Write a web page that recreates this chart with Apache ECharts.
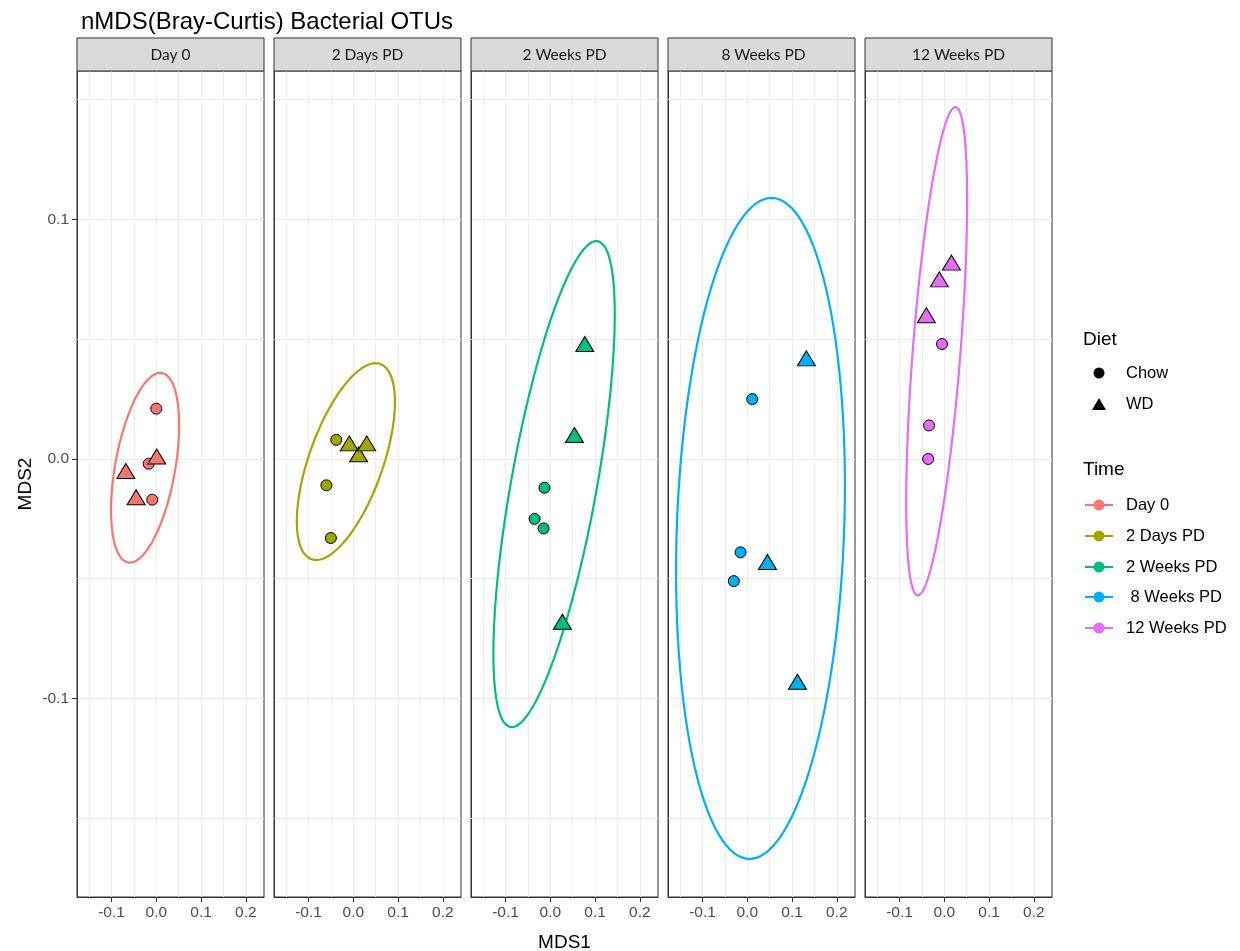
<!DOCTYPE html>
<html>
<head>
<meta charset="utf-8">
<script src="https://cdn.jsdelivr.net/npm/echarts@6/dist/echarts.min.js"></script>
<style>html,body{margin:0;padding:0;background:#fff}#chart{width:1240px;height:951px}</style>
</head>
<body>
<div id="chart"></div>
<script>
// ---- data ----
const times = ['Day 0', '2 Days PD', '2 Weeks PD', ' 8 Weeks PD', '12 Weeks PD'];
const diets = ['Chow', 'WD'];
const timeColors = ['#F8766D', '#A3A500', '#00BF7D', '#00B0F6', '#E76BF3'];

// Chow (circles) per time panel
const chowX = [[0.000, -0.017, -0.009], [-0.038, -0.060, -0.050], [-0.013, -0.035, -0.015], [0.011, -0.015, -0.030], [-0.005, -0.034, -0.036]];
const chowY = [[0.021, -0.002, -0.017], [0.008, -0.011, -0.033], [-0.012, -0.025, -0.029], [0.025, -0.039, -0.051], [0.048, 0.014, 0.000]];
// WD (triangles) per time panel
const wdX = [[0.001, -0.068, -0.045], [-0.009, 0.012, 0.030], [0.077, 0.054, 0.027], [0.132, 0.045, 0.112], [0.016, -0.011, -0.040]];
const wdY = [[0.001, -0.005, -0.016], [0.0065, 0.002, 0.0065], [0.048, 0.010, -0.068], [0.042, -0.043, -0.093], [0.082, 0.075, 0.060]];

// 95% ellipse extents
const ellXmin = [-0.101, -0.126, -0.127, -0.159, -0.085];
const ellXmax = [0.051, 0.093, 0.144, 0.218, 0.051];
const ellYmin = [-0.0433, -0.0422, -0.112, -0.167, -0.057];
const ellYmax = [0.036, 0.040, 0.091, 0.109, 0.147];
const ellXatTop = [0.009, 0.050, 0.103, 0.054, 0.025];

// axis ticks
const xTicks = [-0.1, 0.0, 0.1, 0.2];
const yTicks = [-0.1, 0.0, 0.1];
const xMinor = [-0.15, -0.05, 0.05, 0.15];
const yMinor = [-0.15, -0.05, 0.05, 0.15];
const xRange = [-0.177, 0.2405];
const yRange = [-0.1829, 0.162];

// ---- build ----
function ellipsePath(i) {
  const cx = (ellXmin[i] + ellXmax[i]) / 2, rx = (ellXmax[i] - ellXmin[i]) / 2;
  const cy = (ellYmin[i] + ellYmax[i]) / 2, ry = (ellYmax[i] - ellYmin[i]) / 2;
  const phi = Math.acos(Math.max(-1, Math.min(1, (ellXatTop[i] - cx) / rx)));
  const pts = [];
  const n = 120;
  for (let k = 0; k <= n; k++) {
    const t = 2 * Math.PI * k / n;
    pts.push([cx + rx * Math.cos(t), cy + ry * Math.cos(t - phi)]);
  }
  return pts;
}
const zip = (xs, ys) => xs.map((x, j) => [x, ys[j]]);
const fmt = v => (Math.abs(v * 10 - Math.round(v * 10)) < 1e-6 ? (Math.round(v * 10) / 10).toFixed(1) : '');

const P_LEFT = 77, P_STEP = 197, P_W = 187, P_TOP = 71, P_H = 826, STRIP_TOP = 38;
const FONT = '"Liberation Sans", Arial, sans-serif';

const grid = [], xAxis = [], yAxis = [], series = [], graphic = [];
times.forEach((t, i) => {
  grid.push({left: P_LEFT + i * P_STEP, top: P_TOP, width: P_W, height: P_H, show: true,
    borderColor: '#333', borderWidth: 1, backgroundColor: '#fff',
    containLabel: false, outerBoundsMode: 'none'});
  xAxis.push({type: 'value', gridIndex: i, min: xRange[0], max: xRange[1], splitNumber: 4,
    minInterval: 0.1, maxInterval: 0.1,
    axisLine: {show: true, onZero: false, lineStyle: {color: '#333', width: 1}},
    axisTick: {show: true, length: 5, lineStyle: {color: '#333'}, customValues: xTicks},
    axisLabel: {color: '#4d4d4d', fontSize: 15.5, fontFamily: FONT, margin: 8, customValues: xTicks, formatter: fmt},
    splitLine: {show: true, lineStyle: {color: '#ebebeb', width: 1}},
    name: i === 2 ? 'MDS1' : '', nameLocation: 'middle', nameGap: 36,
    nameTextStyle: {fontSize: 19, color: '#000', fontFamily: FONT}});
  yAxis.push({type: 'value', gridIndex: i, min: yRange[0], max: yRange[1], splitNumber: 3,
    minInterval: 0.1, maxInterval: 0.1,
    axisLine: {show: true, onZero: false, lineStyle: {color: '#333', width: 1}},
    axisTick: {show: i === 0, length: 5, lineStyle: {color: '#333'}, customValues: yTicks},
    axisLabel: {show: i === 0, color: '#4d4d4d', fontSize: 15.5, fontFamily: FONT, margin: 8, customValues: yTicks, formatter: fmt},
    splitLine: {show: true, lineStyle: {color: '#ebebeb', width: 1}},
    name: i === 0 ? 'MDS2' : '', nameLocation: 'middle', nameGap: 42, nameRotate: 90,
    nameTextStyle: {fontSize: 19, color: '#000', fontFamily: FONT}});

  // minor grid lines (below everything)
  series.push({type: 'line', name: t + ' minor grid', xAxisIndex: i, yAxisIndex: i,
    data: [], z: 1, silent: true, symbol: 'none',
    markLine: {z: 1, zlevel: 0, silent: true, symbol: ['none', 'none'], label: {show: false},
      lineStyle: {color: '#ededed', width: 1, type: 'solid'},
      emphasis: {disabled: true},
      data: xMinor.map(v => ({xAxis: v})).concat(yMinor.map(v => ({yAxis: v})))}});
  series.push({type: 'line', name: t + ' ellipse', xAxisIndex: i, yAxisIndex: i,
    data: ellipsePath(i), showSymbol: false, symbol: 'none', smooth: false, z: 3,
    lineStyle: {color: timeColors[i], width: 2.2}, silent: true});
  series.push({type: 'scatter', name: diets[0], xAxisIndex: i, yAxisIndex: i,
    data: zip(chowX[i], chowY[i]), symbol: 'circle', symbolSize: 11, z: 6,
    itemStyle: {color: timeColors[i], borderColor: '#000', borderWidth: 1, opacity: 1}});
  series.push({type: 'scatter', name: diets[1], xAxisIndex: i, yAxisIndex: i,
    data: zip(wdX[i], wdY[i]), symbol: 'triangle', symbolSize: [18, 15], z: 6,
    itemStyle: {color: timeColors[i], borderColor: '#000', borderWidth: 1, opacity: 1}});

  // strip header
  const gx = P_LEFT + i * P_STEP;
  graphic.push({type: 'rect', shape: {x: gx, y: STRIP_TOP, width: P_W, height: P_TOP - STRIP_TOP},
    style: {fill: '#d9d9d9', stroke: '#333', lineWidth: 1}, z: 10});
  graphic.push({type: 'text', x: gx + P_W / 2, y: (STRIP_TOP + P_TOP) / 2,
    style: {text: t, fill: '#1a1a1a', font: '15.5px Lato, "Noto Sans", sans-serif', align: 'center', verticalAlign: 'middle'}, z: 11});
});

// legend (drawn as graphics)
const LX = 1083, KX = 1099, TX = 1126;
graphic.push({type: 'text', x: LX, y: 340, style: {text: 'Diet', fill: '#000', font: '19px ' + FONT, verticalAlign: 'middle'}});
graphic.push({type: 'circle', shape: {cx: KX, cy: 373, r: 5.5}, style: {fill: '#000'}});
graphic.push({type: 'text', x: TX, y: 373, style: {text: diets[0], fill: '#000', font: '16.5px ' + FONT, verticalAlign: 'middle'}});
graphic.push({type: 'polygon', shape: {points: [[KX, 398], [KX - 7, 410], [KX + 7, 410]]}, style: {fill: '#000'}});
graphic.push({type: 'text', x: TX, y: 404, style: {text: diets[1], fill: '#000', font: '16.5px ' + FONT, verticalAlign: 'middle'}});
graphic.push({type: 'text', x: LX, y: 470, style: {text: 'Time', fill: '#000', font: '19px ' + FONT, verticalAlign: 'middle'}});
const legY = [505, 536, 567, 597, 628];
times.forEach((t, i) => {
  graphic.push({type: 'line', shape: {x1: 1085, y1: legY[i], x2: 1113, y2: legY[i]}, style: {stroke: timeColors[i], lineWidth: 2}});
  graphic.push({type: 'circle', shape: {cx: KX, cy: legY[i], r: 5.5}, style: {fill: timeColors[i]}});
  graphic.push({type: 'text', x: TX, y: legY[i], style: {text: t, fill: '#000', font: '16.5px ' + FONT, verticalAlign: 'middle', whiteSpace: 'pre'}});
});

const chart = echarts.init(document.getElementById('chart'), null, {renderer: 'canvas'});
chart.setOption({
  backgroundColor: '#fff',
  animation: false,
  title: {text: 'nMDS(Bray-Curtis) Bacterial OTUs', left: 76, top: 5,
    textStyle: {fontSize: 24, fontWeight: 'normal', color: '#000', fontFamily: FONT}},
  grid, xAxis, yAxis, series, graphic
});
</script>
</body>
</html>
